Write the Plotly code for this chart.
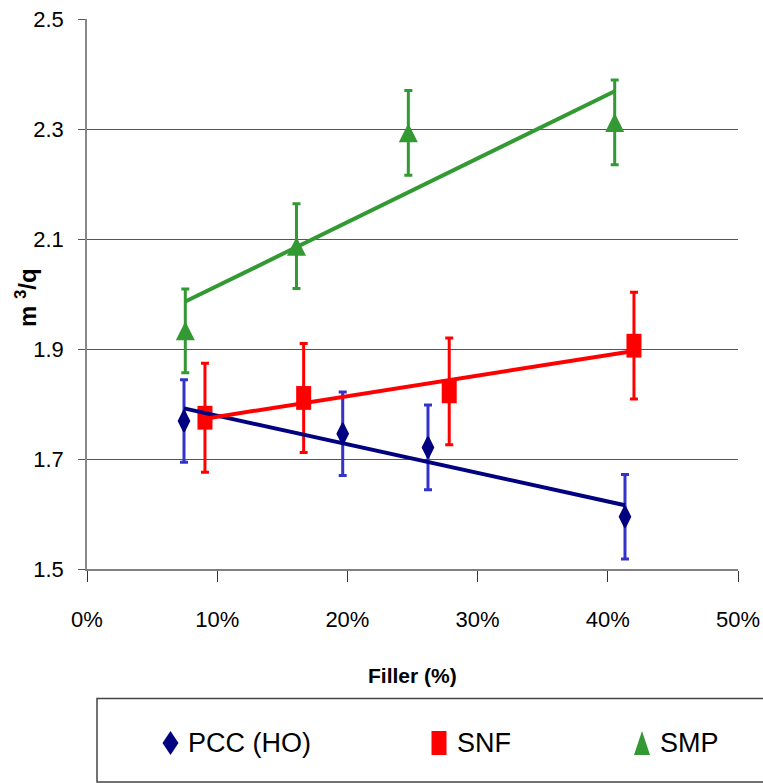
import numpy as np
import plotly.graph_objects as go

# ---- data -------------------------------------------------------------
pcc_x = [0.0745, 0.1964, 0.2619, 0.4132]
pcc_y = [1.769, 1.746, 1.721, 1.595]
pcc_err = [0.075, 0.076, 0.077, 0.077]

snf_x = [0.0906, 0.1664, 0.2782, 0.4201]
snf_y = [1.775, 1.811, 1.823, 1.906]
snf_err = [0.099, 0.099, 0.097, 0.097]

smp_x = [0.0755, 0.1609, 0.2468, 0.4053]
smp_y = [1.933, 2.087, 2.293, 2.312]
smp_err = [0.076, 0.077, 0.077, 0.077]

series_names = ["PCC (HO)", "SNF", "SMP"]
x_ticks = [0.0, 0.1, 0.2, 0.3, 0.4, 0.5]
y_ticks = [1.5, 1.7, 1.9, 2.1, 2.3, 2.5]

# ---- styling ----------------------------------------------------------
FONT = "Liberation Sans, Arial, sans-serif"
NAVY = "#000080"
BLUE_ERR = "#3333CC"
RED = "#FF0000"
GREEN = "#339933"

W, H = 763, 783
ML, MR, MT, MB = 87, 25, 19, 214
PW, PH = W - ML - MR, H - MT - MB


def px_x(p):
    return (p - ML) / PW


def px_y(p):
    return (H - MB - p) / PH


fig = go.Figure()

# data points with error bars
fig.add_trace(go.Scatter(
    x=pcc_x, y=pcc_y, mode="markers", name=series_names[0],
    marker=dict(symbol="diamond-tall", size=15, color=NAVY,
                line=dict(color=NAVY, width=2)),
    error_y=dict(type="data", array=pcc_err, color=BLUE_ERR, thickness=3, width=4),
    showlegend=False,
))
fig.add_trace(go.Scatter(
    x=snf_x, y=snf_y, mode="markers", name=series_names[1],
    marker=dict(symbol="line-ns", size=17, color=RED,
                line=dict(color=RED, width=15)),
    error_y=dict(type="data", array=snf_err, color=RED, thickness=3, width=4),
    showlegend=False,
))
fig.add_trace(go.Scatter(
    x=smp_x, y=smp_y, mode="markers", name=series_names[2],
    marker=dict(symbol="arrow-down", angle=180, size=19, color=GREEN, standoff=9.5,
                line=dict(width=0)),
    error_y=dict(type="data", array=smp_err, color=GREEN, thickness=3, width=4),
    showlegend=False,
))

# linear trend lines over each series' x span
for xs, ys, col in [(pcc_x, pcc_y, NAVY), (snf_x, snf_y, RED), (smp_x, smp_y, GREEN)]:
    k, b = np.polyfit(xs, ys, 1)
    tx = np.array([min(xs), max(xs)])
    fig.add_trace(go.Scatter(x=tx, y=k * tx + b, mode="lines",
                             line=dict(color=col, width=4),
                             showlegend=False, hoverinfo="skip"))

# ---- legend box drawn below the axis ---------------------------------
shapes = [dict(type="rect", xref="paper", yref="paper",
               x0=px_x(97), x1=px_x(770), y0=px_y(782), y1=px_y(698.5),
               line=dict(color="#444444", width=1.5), fillcolor="rgba(0,0,0,0)")]

legend_y = px_y(743)
legend_items = [
    (170.5, "M0,12L8,0L0,-12L-8,0Z", NAVY, 186, series_names[0]),
    (439, "M-7.5,12L7.5,12L7.5,-12L-7.5,-12Z", RED, 455, series_names[1]),
    (642, "M0,12L8,-12L-8,-12Z", GREEN, 658, series_names[2]),
]
annotations = []
for cx, path, col, tx, label in legend_items:
    shapes.append(dict(type="path", xref="paper", yref="paper",
                       xsizemode="pixel", ysizemode="pixel",
                       xanchor=px_x(cx), yanchor=legend_y,
                       path=path, fillcolor=col, line=dict(width=0)))
    annotations.append(dict(xref="paper", yref="paper", x=px_x(tx), y=legend_y,
                            xanchor="left", yanchor="middle", showarrow=False,
                            text=label, font=dict(family=FONT, size=27, color="black")))

# axis titles
annotations.append(dict(xref="paper", yref="paper", x=0.5, y=px_y(675),
                        xanchor="center", yanchor="middle", showarrow=False,
                        text="<b>Filler (%)</b>",
                        font=dict(family=FONT, size=21, color="black")))
annotations.append(dict(xref="paper", yref="paper", x=px_x(26), y=px_y(297),
                        xanchor="center", yanchor="middle", showarrow=False,
                        textangle=-90, text="<b>m <sup>3</sup>/q</b>",
                        font=dict(family=FONT, size=24, color="black")))

fig.update_layout(
    width=W, height=H,
    margin=dict(l=ML, r=MR, t=MT, b=MB, pad=0),
    paper_bgcolor="white", plot_bgcolor="white",
    font=dict(family=FONT, color="black"),
    shapes=shapes, annotations=annotations,
    showlegend=False,
)
fig.update_xaxes(
    range=[0, 0.5], tickvals=x_ticks, tickformat=".0%",
    ticks="outside", ticklen=11, tickwidth=1, tickcolor="#333333",
    showline=True, linecolor="#808080", linewidth=2,
    showgrid=False, zeroline=False, automargin=False,
    tickfont=dict(family=FONT, size=22, color="black"),
    ticklabelstandoff=19,
)
fig.update_yaxes(
    range=[1.5, 2.5], tickvals=y_ticks, tickformat=".1f",
    ticks="outside", ticklen=7, tickwidth=1, tickcolor="#555555",
    showline=True, linecolor="#888888", linewidth=1.5,
    showgrid=True, gridcolor="#555555", gridwidth=1, zeroline=False,
    automargin=False,
    tickfont=dict(family=FONT, size=22, color="black"),
    ticklabelstandoff=10,
)

fig.write_html("out.html")
